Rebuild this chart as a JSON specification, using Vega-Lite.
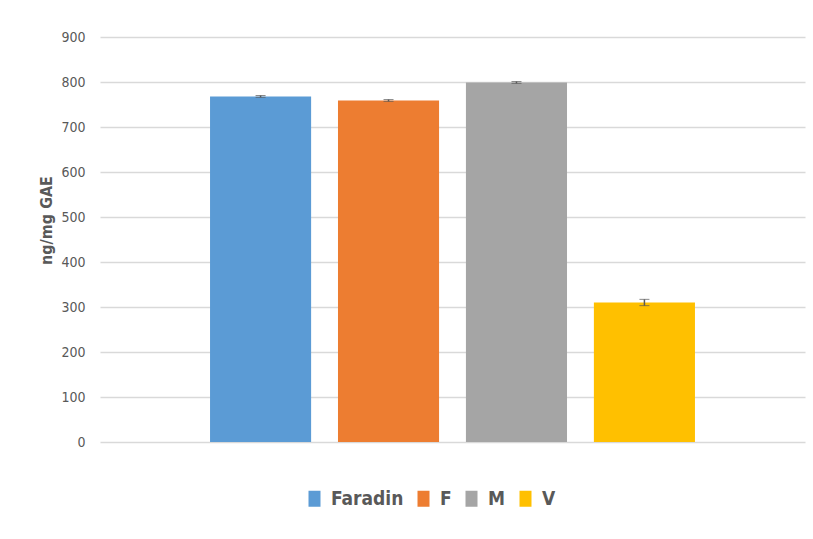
{
  "$schema": "https://vega.github.io/schema/vega-lite/v6.json",
  "width": 705,
  "height": 405,
  "autosize": {"type": "none"},
  "padding": {"left": 100, "top": 37, "right": 8, "bottom": 97},
  "background": "white",
  "config": {
    "view": {"stroke": null},
    "font": "DejaVu Sans Condensed"
  },
  "data": {
    "values": [
      {"sample": "Faradin", "value": 768, "err": 2},
      {"sample": "F", "value": 759, "err": 2},
      {"sample": "M", "value": 799, "err": 2},
      {"sample": "V", "value": 310, "err": 7}
    ]
  },
  "transform": [
    {"calculate": "datum.value - datum.err", "as": "lo"},
    {"calculate": "datum.value + datum.err", "as": "hi"}
  ],
  "encoding": {
    "x": {
      "field": "sample",
      "type": "nominal",
      "sort": ["Faradin", "F", "M", "V"],
      "scale": {"paddingInner": 0.21, "paddingOuter": 0.86},
      "axis": null
    }
  },
  "layer": [
    {
      "mark": {"type": "bar"},
      "encoding": {
        "y": {
          "field": "value",
          "type": "quantitative",
          "scale": {"domain": [0, 900]},
          "title": "ng/mg GAE",
          "axis": {
            "values": [0, 100, 200, 300, 400, 500, 600, 700, 800, 900],
            "titleFont": "DejaVu Sans Condensed",
            "titleFontSize": 16,
            "titleFontWeight": "bold",
            "titleColor": "#595959",
            "titlePadding": 6,
            "titleY": 183,
            "labelFont": "DejaVu Sans Condensed",
            "labelFontSize": 14,
            "labelColor": "#595959",
            "labelPadding": 15,
            "ticks": false,
            "domain": false,
            "gridColor": "#d9d9d9",
            "gridWidth": 1.5
          }
        },
        "color": {
          "field": "sample",
          "type": "nominal",
          "sort": ["Faradin", "F", "M", "V"],
          "scale": {"domain": ["Faradin", "F", "M", "V"], "range": ["#5b9bd5", "#ed7d31", "#a5a5a5", "#ffc000"]},
          "legend": {
            "orient": "none",
            "legendX": 205,
            "legendY": 452,
            "direction": "horizontal",
            "title": null,
            "symbolType": "M-0.75,-1H0.75V1H-0.75Z",
            "symbolSize": 256,
            "symbolStrokeWidth": 0,
            "symbolOpacity": 1,
            "labelFont": "DejaVu Sans Condensed",
            "labelFontSize": 19,
            "labelFontWeight": "bold",
            "labelColor": "#595959",
            "labelOffset": 7,
            "columnPadding": 10
          }
        }
      }
    },
    {
      "mark": {"type": "errorbar", "ticks": {"size": 10, "color": "#595959", "strokeWidth": 2}, "rule": {"color": "#595959", "strokeWidth": 1.5}},
      "encoding": {
        "y": {"field": "lo", "type": "quantitative", "title": "ng/mg GAE"},
        "y2": {"field": "hi"}
      }
    }
  ]
}
